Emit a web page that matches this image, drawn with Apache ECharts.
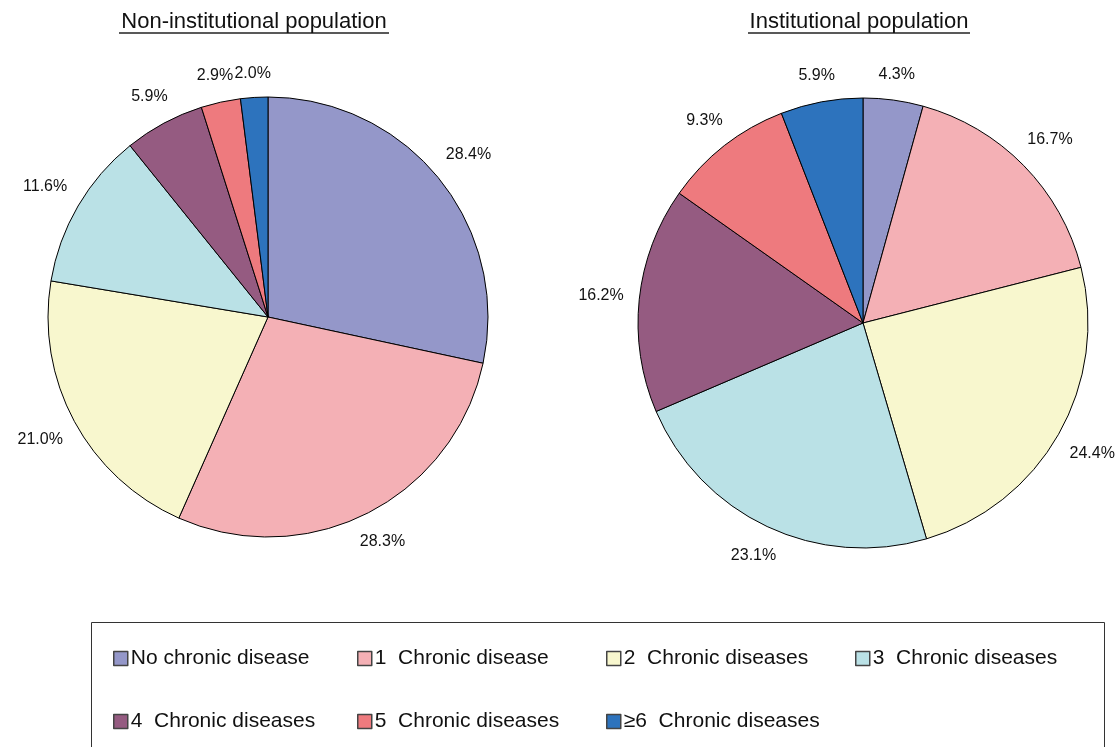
<!DOCTYPE html>
<html><head><meta charset="utf-8">
<script src="https://cdn.jsdelivr.net/npm/echarts@6/dist/echarts.min.js"></script>
<style>html,body{margin:0;padding:0;background:#fff}#c{width:1118px;height:747px}</style>
</head><body><div id="c"></div>
<script>
const categories = ['No chronic disease','1  Chronic disease','2  Chronic diseases','3  Chronic diseases','4  Chronic diseases','5  Chronic diseases','\u22656  Chronic diseases'];
const nonInstitutional = [28.4, 28.3, 21.0, 11.6, 5.9, 2.9, 2.0];
const institutional = [4.3, 16.7, 24.4, 23.1, 16.2, 9.3, 5.9];
const titles = ['Non-institutional population', 'Institutional population'];
const colors = ['#9497C9','#F4B0B5','#F8F7CE','#BAE1E6','#955B81','#EE7A7E','#2D73BD'];

const FONT = 'Liberation Sans';
const seriesValues = [nonInstitutional, institutional];
const centers = [[268, 317], [863, 323]];
const radii = [220, 225];

function labelLayout(params) {
  const vals = seriesValues[params.seriesIndex];
  const total = vals.reduce((a, b) => a + b, 0);
  let cum = 0;
  for (let i = 0; i < params.dataIndex; i++) cum += vals[i];
  const f = (cum + vals[params.dataIndex] / 2) / total;
  const th = f * Math.PI * 2;
  const ux = Math.sin(th), uy = -Math.cos(th);
  const c = centers[params.seriesIndex], r = radii[params.seriesIndex];
  const hw = params.labelRect.width / 2, hh = params.labelRect.height / 2;
  const d = r + 15 + Math.abs(ux) * hw + Math.abs(uy) * hh;
  return { x: c[0] + ux * d, y: c[1] + uy * d, align: 'center', verticalAlign: 'middle' };
}

function pie(values, idx) {
  return {
    type: 'pie', center: centers[idx], radius: radii[idx], startAngle: 90, clockwise: true,
    animation: false, silent: true,
    data: values.map((v, i) => ({ name: categories[i], value: v })),
    itemStyle: { borderColor: '#000', borderWidth: 1 },
    label: { show: true, position: 'outside', overflow: 'none', formatter: p => p.value.toFixed(1) + '%', color: '#111', fontFamily: FONT, fontSize: 16 },
    labelLine: { show: false, length: 10, length2: 0 },
    labelLayout: labelLayout,
    emphasis: { disabled: true }
  };
}
const chart = echarts.init(document.getElementById('c'), null, { renderer: 'canvas' });
const legendLefts = [113, 357, 606, 855, 113, 357, 606];
const legendTops = [648, 648, 648, 648, 711, 711, 711];
const legends = categories.map((name, i) => ({
  data: [name], left: legendLefts[i], top: legendTops[i], padding: 0,
  icon: 'rect', itemWidth: 14, itemHeight: 14, orient: 'horizontal', selectedMode: false,
  textStyle: { fontFamily: FONT, fontSize: 21, color: '#111', padding: [0, 0, 0, -2] },
  itemStyle: { borderColor: '#444', borderWidth: 1.5 }
}));
chart.setOption({
  color: colors,
  animation: false,
  title: [
    { text: titles[0], left: 249, top: 6, textAlign: 'center', textStyle: { fontFamily: FONT, fontSize: 22, fontWeight: 'normal', color: '#111' } },
    { text: titles[1], left: 854, top: 6, textAlign: 'center', textStyle: { fontFamily: FONT, fontSize: 22, fontWeight: 'normal', color: '#111' } }
  ],
  legend: legends,
  graphic: [
    { type: 'line', shape: { x1: 119, y1: 33, x2: 389, y2: 33 }, style: { stroke: '#222', lineWidth: 1.3 } },
    { type: 'line', shape: { x1: 748, y1: 33, x2: 970, y2: 33 }, style: { stroke: '#222', lineWidth: 1.3 } },
    { type: 'rect', shape: { x: 91.5, y: 622.5, width: 1013, height: 140 }, style: { fill: 'none', stroke: '#333', lineWidth: 1 } }
  ],
  series: [pie(nonInstitutional, 0), pie(institutional, 1)]
});
</script></body></html>
